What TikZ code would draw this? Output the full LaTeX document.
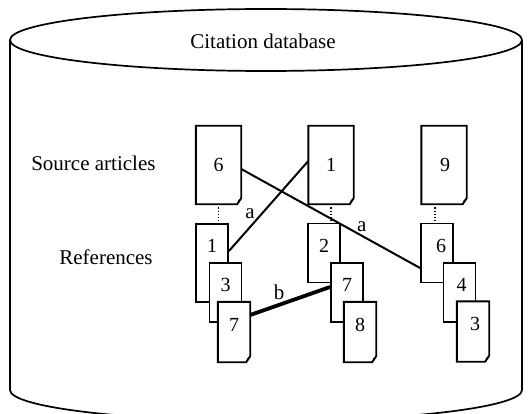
\documentclass[tikz,border=0pt]{standalone}
\usepackage{fontspec}
\setmainfont{Liberation Serif}
\newcommand\docfold[1]{%
  \draw[boxline,fill=white] (#1.north west) -- (#1.north east) -- ([yshift=6]#1.south east) -- ([xshift=-4]#1.south east) -- (#1.south west) -- cycle;
  \fill ([yshift=6]#1.south east) -- ([xshift=-4]#1.south east) -- ([xshift=-3,yshift=4]#1.south east) -- cycle;
}
\tikzset{
  boxline/.style={line width=1.9pt, line join=miter},
  srcdoc/.style={inner sep=0pt, minimum width=45pt, minimum height=78pt, font=\fontsize{20}{24}\selectfont},
  refbox/.style={boxline, draw, fill=white, inner sep=0pt, minimum width=32pt, minimum height=59pt},
  fbox/.style={fill=white, inner sep=0pt, minimum width=32pt, minimum height=60pt},
  digit/.style={inner sep=0pt, font=\fontsize{20}{24}\selectfont},
  lbl/.style={inner sep=0pt, font=\fontsize{21}{25}\selectfont},
  conn/.style={line width=2pt},
  dots/.style={dotted, line width=1.2pt},
  cyl/.style={line width=1.7pt},
}
\begin{document}
\begin{tikzpicture}[x=1pt,y=-1pt]
\useasboundingbox (0,0) rectangle (532,414);
% cylinder
\draw[cyl] (266,40) ellipse [x radius=256, y radius=31];
\draw[cyl] (10,40) -- (10,390);
\draw[cyl] (522,40) -- (522,390);
\begin{scope}
  \clip (0,390) rectangle (532,414);
  \draw[cyl] (266,390) ellipse [x radius=256, y radius=31];
\end{scope}
\node[lbl] (title) at (263,41) {Citation database};
\node[lbl] (srclbl) at (93.4,163.5) {Source articles};
\node[lbl] (reflbl) at (106,257) {References};
% source articles
\node[srcdoc] (s6) at (218.5,165) {}; \docfold{s6}
\node[digit] (d6) at (s6.center) {6};
\node[srcdoc] (s1) at (331,165) {}; \docfold{s1}
\node[digit] (d1) at (s1.center) {1};
\node[srcdoc] (s9) at (444,165) {}; \docfold{s9}
\node[digit] (d9) at ([xshift=1]s9.center) {9};
% left column references
\node[refbox, minimum height=78pt] (r1) at (212,263) {};
\node[digit] (dr1) at ([yshift=-23]r1.north) {1};
\node[refbox] (r3) at (225.5,292.5) {};
\node[digit] (dr3) at ([yshift=-23]r3.north) {3};
\node[fbox] (r7) at (234,332) {}; \docfold{r7}
\node[digit] (dr7) at ([yshift=-23]r7.north) {7};
% middle column
\node[refbox] (r2) at (324,253) {};
\node[digit] (dr2) at ([yshift=-23]r2.north) {2};
\node[refbox] (r7b) at (347,292.5) {};
\node[digit] (dr7b) at ([yshift=-23]r7b.north) {7};
\node[fbox] (r8) at (360,332) {}; \docfold{r8}
\node[digit] (dr8) at ([yshift=-23]r8.north) {8};
% right column
\node[refbox] (r6) at (437,253) {};
\node[digit] (dr6) at ([xshift=4,yshift=-23]r6.north) {6};
\node[refbox] (r4) at (459.5,292.5) {};
\node[digit] (dr4) at ([xshift=2,yshift=-23]r4.north) {4};
\node[fbox] (r3b) at (473,331.5) {}; \docfold{r3b}
\node[digit] (dr3b) at ([xshift=2,yshift=-23]r3b.north) {3};
% dotted links
\draw[dots] (s6.south) -- (s6.south |- r1.north);
\draw[dots] (s1.south) -- (s1.south |- r2.north);
\coordinate (s9b) at ([xshift=-9]s9.south);
\draw[dots] (s9b) -- (s9b |- r6.north);
% citation links
\draw[conn] ([yshift=12]r1.east) -- ([yshift=4]s1.west);
\draw[conn] ([yshift=-4]s6.east) -- ([yshift=-15]r6.west);
\draw[line width=3.8pt] ([yshift=17]r7.east) -- ([yshift=5.5]r7b.west);
\node[lbl] (la1) at (250,214) {a};
\node[lbl] (la2) at (361.7,226.7) {a};
\node[lbl] (lb) at (279,292) {b};
\end{tikzpicture}
\end{document}
